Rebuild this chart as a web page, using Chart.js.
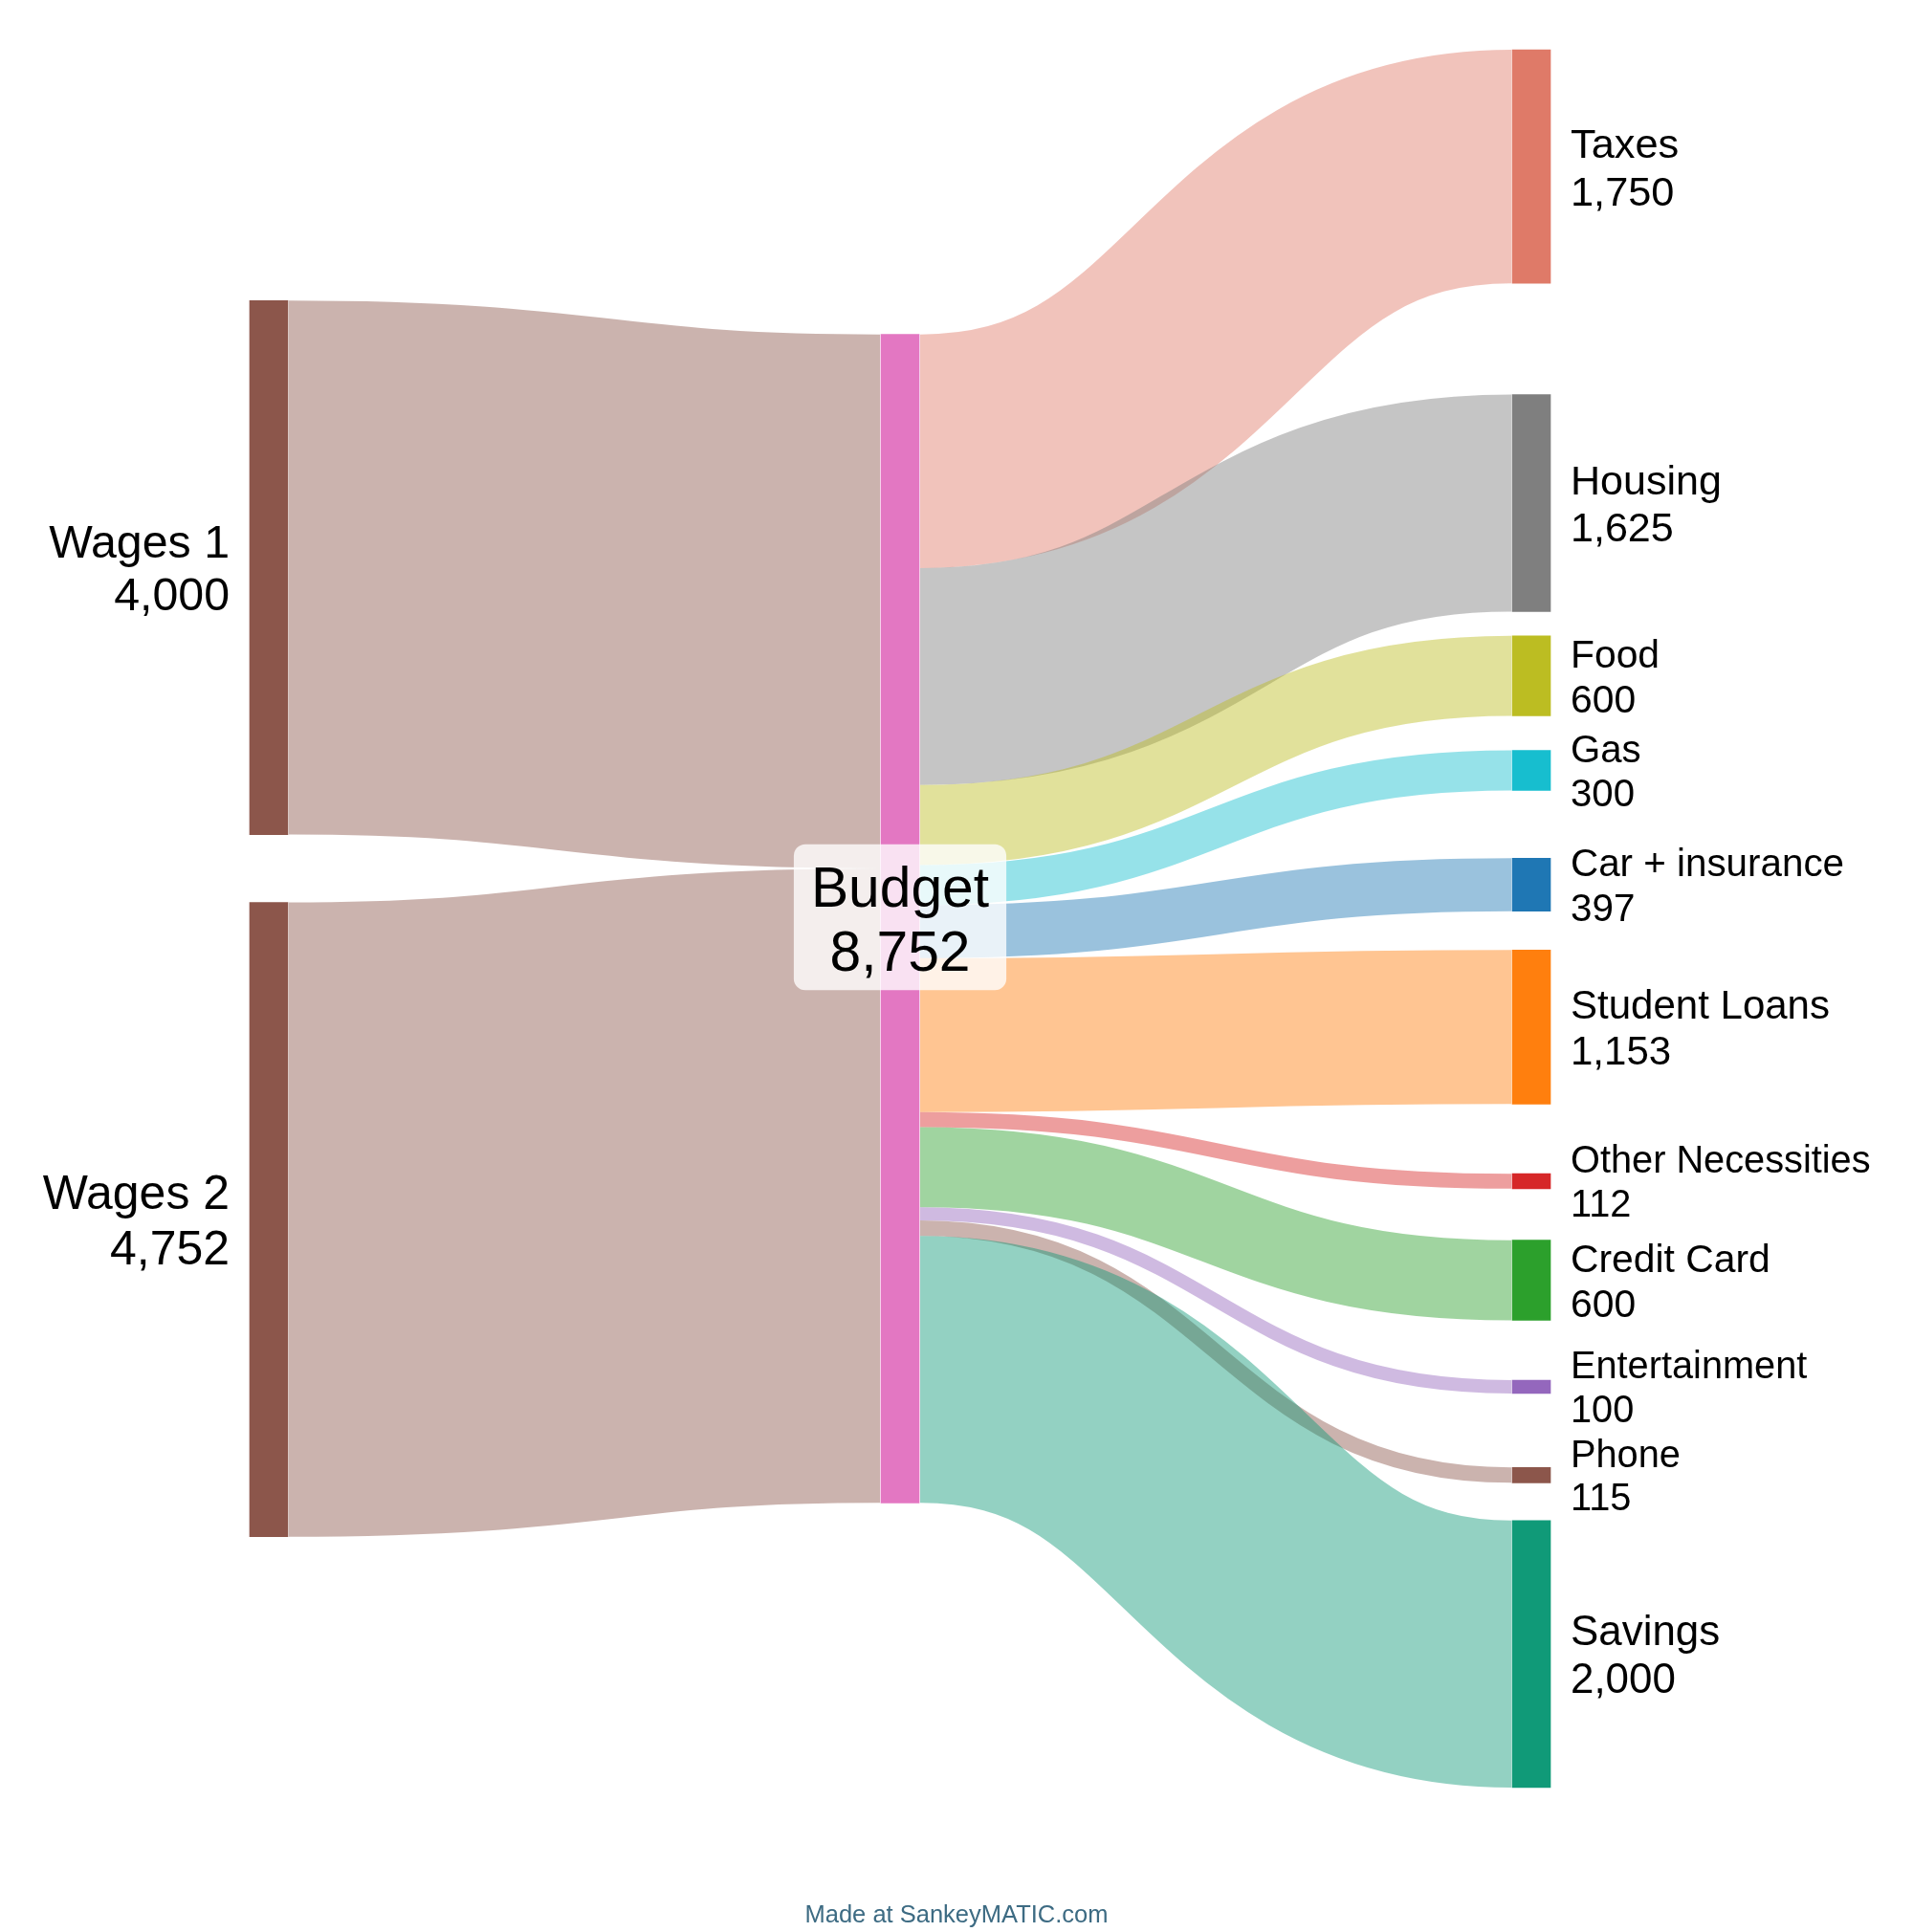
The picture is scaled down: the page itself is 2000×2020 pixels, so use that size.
<!DOCTYPE html>
<html>
<head>
<meta charset="utf-8">
<title>Budget Sankey</title>
<script src="https://cdn.jsdelivr.net/npm/chart.js@4.4.1/dist/chart.umd.min.js"></script>
<style>
  html, body { margin: 0; padding: 0; background: #fff; }
  #wrap { width: 2000px; height: 2020px; position: relative; }
</style>
</head>
<body>
<div id="wrap"><canvas id="sankey"></canvas></div>
<script>
// nodes, in drawing order within each column
const nodeNames = ['Wages 1', 'Wages 2', 'Budget', 'Taxes', 'Housing', 'Food', 'Gas',
  'Car + insurance', 'Student Loans', 'Other Necessities', 'Credit Card',
  'Entertainment', 'Phone', 'Savings'];

// flows
const flowFrom = ['Wages 1', 'Wages 2', 'Budget', 'Budget', 'Budget', 'Budget', 'Budget',
  'Budget', 'Budget', 'Budget', 'Budget', 'Budget', 'Budget'];
const flowTo = ['Budget', 'Budget', 'Taxes', 'Housing', 'Food', 'Gas', 'Car + insurance',
  'Student Loans', 'Other Necessities', 'Credit Card', 'Entertainment', 'Phone', 'Savings'];
const flowAmount = [4000, 4752, 1750, 1625, 600, 300, 397, 1153, 112, 600, 100, 115, 2000];

// styling / layout settings
const nodeColors = {
  'Wages 1': '#8c564b', 'Wages 2': '#8c564b', 'Budget': '#e377c2',
  'Taxes': '#df7a68', 'Housing': '#7f7f7f', 'Food': '#bcbd22', 'Gas': '#17becf',
  'Car + insurance': '#1f77b4', 'Student Loans': '#ff7f0e', 'Other Necessities': '#d62728',
  'Credit Card': '#2ca02c', 'Entertainment': '#9467bd', 'Phone': '#8c564b', 'Savings': '#109a78'
};
// spacing between neighbouring nodes of a column, in value units
const columnGaps = [[508], [], [833, 182, 258, 508, 291, 522, 386, 448, 554, 283]];
const linkOpacity = 0.45;
const nodeWidth = 40;
const labelFont = "'Liberation Sans', Arial, Helvetica, sans-serif";

function hexToRgba(hex, a) {
  const n = parseInt(hex.slice(1), 16);
  return `rgba(${(n >> 16) & 255},${(n >> 8) & 255},${n & 255},${a})`;
}

// ---- build graph ----
const nodes = nodeNames.map(name => ({ name, color: nodeColors[name], inLinks: [], outLinks: [] }));
const byName = {};
nodes.forEach(n => byName[n.name] = n);
const links = flowAmount.map((v, i) => ({ source: byName[flowFrom[i]], target: byName[flowTo[i]], value: v }));
links.forEach(l => { l.source.outLinks.push(l); l.target.inLinks.push(l); });

const sum = arr => arr.reduce((a, b) => a + b, 0);
nodes.forEach(n => {
  n.value = Math.max(sum(n.inLinks.map(l => l.value)), sum(n.outLinks.map(l => l.value)));
});
function depth(n) {
  return n.inLinks.length ? 1 + Math.max(...n.inLinks.map(l => depth(l.source))) : 0;
}
nodes.forEach(n => n.col = depth(n));
const lastCol = Math.max(...nodes.map(n => n.col));
const columns = [];
for (let c = 0; c <= lastCol; c++) columns.push(nodes.filter(n => n.col === c));

const colSpan = columns.map((c, ci) => sum(c.map(n => n.value)) + sum(columnGaps[ci] || []));
const span = Math.max(...colSpan);
columns.forEach((c, ci) => {
  let y = (span - colSpan[ci]) / 2;
  c.forEach((n, k) => {
    if (k > 0) y += columnGaps[ci][k - 1];
    n.y0 = y;
    n.y1 = y + n.value;
    y = n.y1;
  });
});
nodes.forEach(n => {
  n.outLinks.sort((a, b) => a.target.y0 - b.target.y0);
  let y = n.y0;
  n.outLinks.forEach(l => { l.sy = y; y += l.value; });
  n.inLinks.sort((a, b) => a.source.y0 - b.source.y0);
  y = n.y0;
  n.inLinks.forEach(l => { l.ty = y; y += l.value; });
});
// links coloured by their outer node
links.forEach(l => {
  l.color = l.target.outLinks.length ? l.source.color : l.target.color;
});

const fmt = v => v.toLocaleString('en-US');
const labelSize = v => 39.5 + 0.0022 * v;

const sankeyPlugin = {
  id: 'sankeyDraw',
  beforeDatasetsDraw(chart) {
    const { ctx, scales: { x, y } } = chart;
    ctx.save();
    links.forEach(l => {
      const x0 = x.getPixelForValue(l.source.col) + nodeWidth / 2 + 1;
      const x1 = x.getPixelForValue(l.target.col) - nodeWidth / 2 - 1;
      const ys = y.getPixelForValue(l.sy + l.value / 2);
      const yt = y.getPixelForValue(l.ty + l.value / 2);
      const w = Math.abs(y.getPixelForValue(l.value) - y.getPixelForValue(0));
      const xm = (x0 + x1) / 2;
      ctx.beginPath();
      ctx.moveTo(x0, ys);
      ctx.bezierCurveTo(xm, ys, xm, yt, x1, yt);
      ctx.lineWidth = w;
      ctx.lineCap = 'butt';
      ctx.strokeStyle = hexToRgba(l.color, linkOpacity);
      ctx.stroke();
    });
    ctx.restore();
  },
  afterDatasetsDraw(chart) {
    const { ctx, scales: { x, y } } = chart;
    ctx.save();
    ctx.textBaseline = 'alphabetic';
    nodes.forEach(n => {
      const size = labelSize(n.value);
      const cap = size * 0.716;
      const step = size * 1.15;
      const yc = (y.getPixelForValue(n.y0) + y.getPixelForValue(n.y1)) / 2;
      const base1 = yc - (step + cap) / 2 + cap;
      const base2 = base1 + step;
      const xc = x.getPixelForValue(n.col);
      const lines = [n.name, fmt(n.value)];
      ctx.font = `${size}px ${labelFont}`;
      let tx;
      if (n.col === 0) {
        ctx.textAlign = 'right';
        tx = xc - nodeWidth / 2 - 21;
      } else if (n.col === lastCol) {
        ctx.textAlign = 'left';
        tx = xc + nodeWidth / 2 + 21;
      } else {
        ctx.textAlign = 'center';
        tx = xc;
        const tw = Math.max(...lines.map(s => ctx.measureText(s).width));
        const bx = tx - tw / 2 - 18;
        const by = base1 - cap - 23;
        ctx.fillStyle = 'rgba(255,255,255,0.78)';
        ctx.beginPath();
        ctx.roundRect(bx, by, tw + 36, (base2 + 20) - by, 12);
        ctx.fill();
      }
      ctx.fillStyle = '#000';
      ctx.fillText(lines[0], tx, base1);
      ctx.fillText(lines[1], tx, base2);
    });
    ctx.restore();
  },
  afterDraw(chart) {
    const ctx = chart.ctx;
    ctx.save();
    ctx.font = `25.5px ${labelFont}`;
    ctx.fillStyle = '#3d6b83';
    ctx.textAlign = 'center';
    ctx.textBaseline = 'alphabetic';
    ctx.fillText('Made at SankeyMATIC.com', chart.width / 2, 2010);
    ctx.restore();
  }
};

new Chart(document.getElementById('sankey'), {
  type: 'bar',
  data: {
    datasets: [{
      data: nodes.map(n => ({ x: n.col, y: [n.y0, n.y1] })),
      backgroundColor: nodes.map(n => n.color),
      borderWidth: 0,
      barThickness: nodeWidth,
      clip: false
    }]
  },
  options: {
    responsive: true,
    maintainAspectRatio: false,
    animation: false,
    layout: { padding: { left: 281, right: 399, top: 52, bottom: 151 } },
    scales: {
      x: { type: 'linear', min: 0, max: lastCol, offset: false, display: false },
      y: { min: 0, max: span, reverse: true, display: false }
    },
    plugins: {
      legend: { display: false },
      tooltip: { enabled: false }
    }
  },
  plugins: [sankeyPlugin]
});
</script>
</body>
</html>
